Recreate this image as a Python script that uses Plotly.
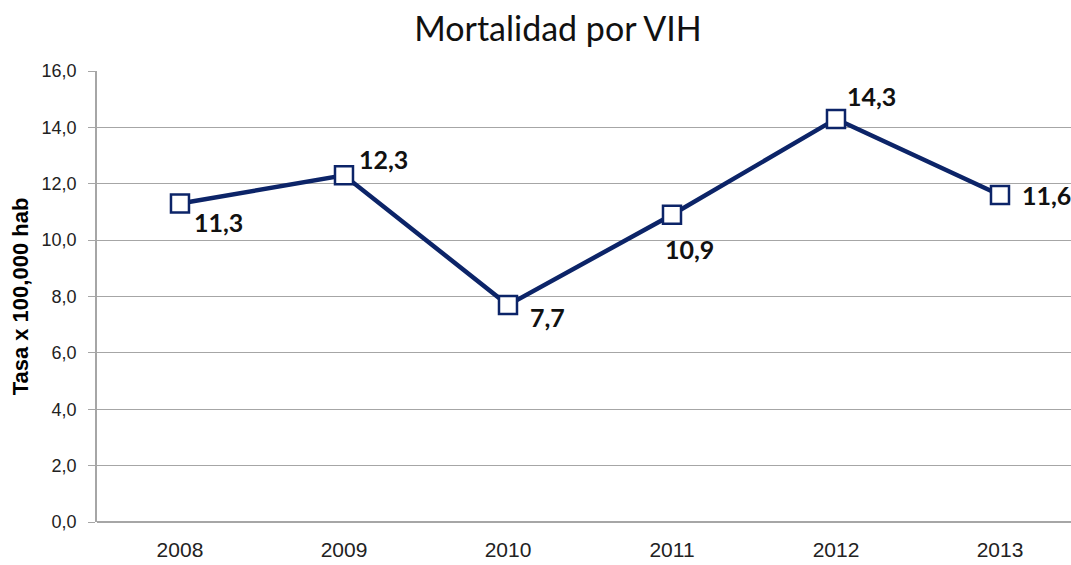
import plotly.graph_objects as go

years = ["2008", "2009", "2010", "2011", "2012", "2013"]
rates = [11.3, 12.3, 7.7, 10.9, 14.3, 11.6]
labels = ["11,3", "12,3", "7,7", "10,9", "14,3", "11,6"]
# label offsets in pixels (style only)
label_dx = [39, 40, 40, 18, 36, 47]
label_dy = [19, -16, 12, 34, -23, 0]
y_ticks = [0, 2, 4, 6, 8, 10, 12, 14, 16]
y_tick_text = ["0,0", "2,0", "4,0", "6,0", "8,0", "10,0", "12,0", "14,0", "16,0"]

NAVY = "#0C2468"
GRID = "#A6A6A6"

fig = go.Figure()
fig.add_trace(go.Scatter(
    x=years, y=rates, mode="lines+markers",
    line=dict(color=NAVY, width=4.5),
    marker=dict(symbol="square", size=18, color="white", line=dict(color=NAVY, width=2.5)),
    cliponaxis=False, showlegend=False, hoverinfo="skip",
))

for i, (v, lab, dx, dy) in enumerate(zip(rates, labels, label_dx, label_dy)):
    fig.add_annotation(
        x=i, y=v, xref="x", yref="y", text=lab, showarrow=False,
        xshift=dx, yshift=-dy, xanchor="center", yanchor="middle",
        font=dict(family="Lato, Noto Sans, sans-serif", size=25, color="#111111", weight="bold"),
    )

W, H = 1071, 565
fig.update_layout(
    width=W, height=H,
    margin=dict(l=97, r=0, t=71, b=43, autoexpand=False),
    paper_bgcolor="white", plot_bgcolor="white",
    title=dict(text="Mortalidad por VIH", x=558 / W, xanchor="center", xref="container",
               y=1 - 29 / H, yanchor="middle", yref="container",
               font=dict(family="Lato, Noto Sans, sans-serif", size=34, color="#111111")),
    xaxis=dict(type="category", range=[-0.506, 5.433], showgrid=False,
               tickfont=dict(family="Liberation Sans, Arial, sans-serif", size=21, color="#222222"),
               ticks="", showline=False, zeroline=False, ticklabelstandoff=13, automargin=False),
    yaxis=dict(range=[0, 16], tickvals=y_ticks, ticktext=y_tick_text,
               showgrid=True, gridcolor=GRID, gridwidth=1,
               showline=True, linecolor=GRID, linewidth=1.5,
               ticks="outside", ticklen=7, tickcolor=GRID,
               tickfont=dict(family="Liberation Sans, Arial, sans-serif", size=18, color="#222222"),
               ticklabelstandoff=8,
               zeroline=True, zerolinecolor=GRID, zerolinewidth=1.5, automargin=False,
               title=dict(text="Tasa x 100,000 hab", standoff=7,
                          font=dict(family="Liberation Sans, Arial, sans-serif", size=22, color="#000000", weight="bold"))),
)

fig.write_html(
    "out.html",
    config={"displayModeBar": False},
    post_script="document.body.style.margin='0';document.body.style.overflow='hidden';",
)
